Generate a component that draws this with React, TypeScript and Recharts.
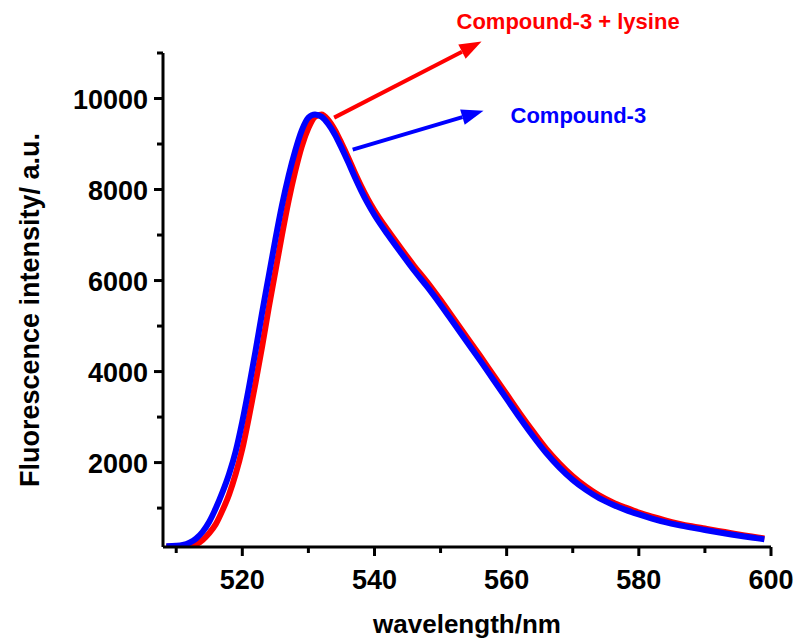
import React from "react";
import { LineChart, Line, XAxis, YAxis, ReferenceLine } from "recharts";

// emission spectra, intensity in a.u. vs wavelength in nm
const wavelengths = [
  508.5, 510, 511, 512, 513, 514, 515, 516, 517, 518, 519, 520, 521, 522, 523, 524, 525, 526,
  527, 528, 529, 530, 531, 532, 533, 534, 535, 536, 537, 538, 539, 540, 542, 544, 546, 548,
  550, 552, 554, 556, 558, 560, 562, 564, 566, 568, 570, 572, 574, 576, 578, 580, 582, 584,
  586, 588, 590, 592, 594, 596, 598, 599,
];
const compound3 = [
  160, 170, 190, 240, 330, 480, 700, 1000, 1350, 1750, 2250, 2900, 3650, 4450, 5300, 6100,
  6900, 7650, 8300, 8850, 9300, 9580, 9650, 9600, 9440, 9210, 8920, 8610, 8280, 7970, 7690,
  7440, 7010, 6610, 6220, 5860, 5470, 5060, 4650, 4240, 3820, 3400, 2980, 2580, 2210, 1890,
  1620, 1400, 1220, 1080, 960, 860, 770, 690, 625, 570, 520, 470, 420, 375, 335, 315,
];
const compound3Lysine = [
  150, 150, 155, 165, 200, 300, 450, 650, 950, 1300, 1750, 2300, 3000, 3750, 4550, 5400,
  6200, 7000, 7750, 8400, 8950, 9350, 9600, 9650, 9530, 9310, 9020, 8710, 8380, 8070, 7790,
  7540, 7110, 6710, 6320, 5960, 5570, 5160, 4750, 4340, 3920, 3500, 3080, 2680, 2300, 1980,
  1700, 1470, 1280, 1130, 1010, 900, 810, 730, 660, 600, 550, 500, 450, 400, 355, 335,
];

const xMajor = [520, 540, 560, 580, 600];
const xMinor = [510, 530, 550, 570, 590];
const yMajor = [2000, 4000, 6000, 8000, 10000];
const yMinor = [1000, 3000, 5000, 7000, 9000, 11000];

// arrow annotations: start on the curve, tip near the label
const annotations = [
  { text: "Compound-3 + lysine", color: "#ff0000", from: { x: 533.9, y: 9580 }, to: { x: 556.2, y: 11250 }, dx: -25, dy: -13 },
  { text: "Compound-3", color: "#0000ff", from: { x: 536.7, y: 8875 }, to: { x: 556.5, y: 9730 }, dx: 27, dy: 12 },
];

const data = wavelengths.map((nm, i) => ({ nm, blue: compound3[i], red: compound3Lysine[i] }));

const FONT = "'Liberation Sans', Arial, sans-serif";

const XTick = (props: any) => {
  const { x, y, payload } = props;
  const major = xMajor.includes(payload.value);
  return (
    <g>
      <line x1={x} y1={y} x2={x} y2={y + (major ? 9 : 6)} stroke="#000" strokeWidth={3} />
      {major && (
        <text x={x} y={y + 42} textAnchor="middle" fontFamily={FONT} fontWeight="bold" fontSize={27} fill="#000">
          {payload.value}
        </text>
      )}
    </g>
  );
};

const YTick = (props: any) => {
  const { x, y, payload } = props;
  const major = yMajor.includes(payload.value);
  return (
    <g>
      <line x1={x} y1={y} x2={x - (major ? 9 : 6)} y2={y} stroke="#000" strokeWidth={3} />
      {major && (
        <text x={x - 15} y={y + 10} textAnchor="end" fontFamily={FONT} fontWeight="bold" fontSize={27} fill="#000">
          {payload.value}
        </text>
      )}
    </g>
  );
};

const arrowShape = (ann: (typeof annotations)[number]) => (props: any) => {
  const { x1, y1, x2, y2 } = props;
  const ang = Math.atan2(y2 - y1, x2 - x1);
  const len = 22;
  const half = 8;
  const bx = x2 - len * Math.cos(ang);
  const by = y2 - len * Math.sin(ang);
  const px = -Math.sin(ang) * half;
  const py = Math.cos(ang) * half;
  return (
    <g>
      <line x1={x1} y1={y1} x2={bx} y2={by} stroke={ann.color} strokeWidth={4} />
      <polygon points={`${x2},${y2} ${bx + px},${by + py} ${bx - px},${by - py}`} fill={ann.color} />
      <text x={x2 + ann.dx} y={y2 + ann.dy} fontFamily={FONT} fontWeight="bold" fontSize={22} fill={ann.color}>
        {ann.text}
      </text>
    </g>
  );
};

export default function App() {
  return (
    <div style={{ position: "absolute", left: 0, top: 0, background: "#fff" }}>
      <LineChart width={797} height={638} data={data} margin={{ top: 53, right: 26, left: 0, bottom: 0 }}>
        <XAxis
          type="number"
          dataKey="nm"
          domain={[508, 600]}
          ticks={[...xMinor, ...xMajor].sort((a, b) => a - b)}
          interval={0}
          allowDataOverflow
          height={91}
          tickSize={0}
          tickMargin={0}
          tickLine={false}
          tick={<XTick />}
          axisLine={{ stroke: "#000", strokeWidth: 3 }}
          label={{
            content: (p: any) => (
              <text
                x={p.viewBox.x + p.viewBox.width / 2}
                y={p.viewBox.y + 86}
                textAnchor="middle"
                fontFamily={FONT}
                fontWeight="bold"
                fontSize={26}
                fill="#000"
              >
                wavelength/nm
              </text>
            ),
          }}
        />
        <YAxis
          type="number"
          domain={[145, 11000]}
          ticks={[...yMinor, ...yMajor].sort((a, b) => a - b)}
          interval={0}
          allowDataOverflow
          width={163}
          tickSize={0}
          tickMargin={0}
          tickLine={false}
          tick={<YTick />}
          axisLine={{ stroke: "#000", strokeWidth: 3 }}
          label={{
            content: (p: any) => {
              const cx = p.viewBox.x + 30;
              const cy = p.viewBox.y + p.viewBox.height / 2 + 10;
              return (
                <text
                  x={cx}
                  y={cy}
                  transform={`rotate(-90 ${cx} ${cy})`}
                  textAnchor="middle"
                  dominantBaseline="central"
                  fontFamily={FONT}
                  fontWeight="bold"
                  fontSize={27}
                  fill="#000"
                >
                  Fluorescence intensity/ a.u.
                </text>
              );
            },
          }}
        />
        <Line type="monotone" dataKey="red" stroke="#ff0000" strokeWidth={6} dot={false} isAnimationActive={false} />
        <Line type="monotone" dataKey="blue" stroke="#0000ff" strokeWidth={6} dot={false} isAnimationActive={false} />
        {annotations.map((ann) => (
          <ReferenceLine
            key={ann.text}
            segment={[ann.from, ann.to]}
            ifOverflow="visible"
            stroke={ann.color}
            shape={arrowShape(ann)}
          />
        ))}
      </LineChart>
    </div>
  );
}
